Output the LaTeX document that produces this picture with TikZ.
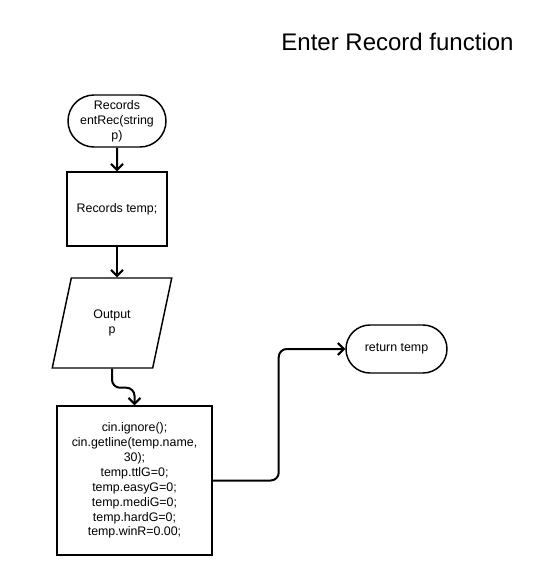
\documentclass[tikz,border=0pt]{standalone}
\usepackage{fontspec}
\setmainfont{Liberation Sans}
\usetikzlibrary{shapes.geometric,shapes.misc,arrows.meta}

\begin{document}
\begin{tikzpicture}[
            x = .75pt, y = -.75pt,
            every node/.style={align=center, inner sep=0pt, font=\fontsize{9.3}{11.2}\selectfont},
            box/.style={draw, line width=1.1pt},
            term/.style={box, rounded rectangle},
            proc/.style={box, rectangle},
            io/.style={box, trapezium, trapezium left angle=71.57, trapezium right angle=108.43, trapezium stretches=true},
            line/.style={line width=1.5pt, rounded corners=6pt, -{Straight Barb[length=4.5pt,width=9pt,line width=1.5pt]}},
            ]
        \useasboundingbox (0,0) rectangle (556,575);

        \node (title) at (397.5,42) {\fontsize{18}{22}\selectfont Enter Record function};

        \node[term, minimum width=73.5pt, minimum height=39pt] (start) at (117,121) {Records\\entRec(string\\p)};
        \node[proc, minimum width=75pt, minimum height=55.5pt] (rec) at (117,209) {Records temp;};
        \node[io, minimum width=90pt, minimum height=67.5pt] (out) at (112,323) {Output\\p};
        \node[proc, minimum width=116.25pt, minimum height=111.75pt] (init) at (134.5,480.5) {cin.ignore();\\cin.getline(temp.name,\\30);\\temp.ttlG=0;\\temp.easyG=0;\\temp.mediG=0;\\temp.hardG=0;\\temp.winR=0.00;};
        \node[term, minimum width=75.75pt, minimum height=36pt] (ret) at (396.5,349) {return temp};

        \draw[line] (start) -- (rec);
        \draw[line] (rec.south) -- (rec.south |- out.north);
        \draw[line] (out.south) -- ++(0,19) -| (init.north);
        \draw[line] (init.east) -- ++(66,0) |- (ret.west);

    \end{tikzpicture}
\end{document}
